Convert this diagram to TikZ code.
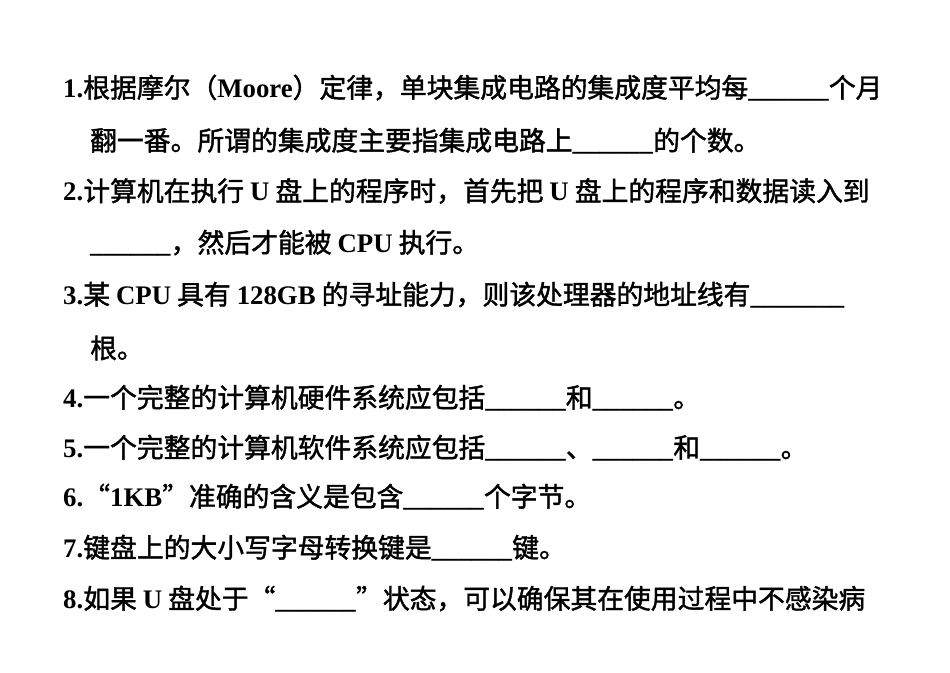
\documentclass[tikz,border=0pt]{standalone}
\usepackage{fontspec}
\setmainfont{Liberation Serif}
\newfontfamily\zhfont{Noto Sans CJK SC}[FakeBold=1.5]
\newcommand{\zh}[1]{{\zhfont #1}}
\newcommand{\bb}[1]{\textbf{#1}}
\begin{document}
\begin{tikzpicture}[x=1pt,y=1pt,line/.style={anchor=west,inner sep=0pt,font=\fontsize{26.8}{30}\selectfont}]
\useasboundingbox (0,0) rectangle (950,672);
\node[line] (l1) at (63,672-88) {\bb{1.}\zh{根据摩尔（}\bb{Moore}\zh{）定律，单块集成电路的集成度平均每}\bb{\_\_\_\_\_\_}\zh{个月}};
\node[line] (l2) at (90,672-141) {\zh{翻一番。所谓的集成度主要指集成电路上}\bb{\_\_\_\_\_\_}\zh{的个数。}};
\node[line] (l3) at (63,672-191) {\bb{2.}\zh{计算机在执行 }\bb{U}\zh{ 盘上的程序时，首先把 }\bb{U}\zh{ 盘上的程序和数据读入到}};
\node[line] (l4) at (90,672-243) {\bb{\_\_\_\_\_\_}\zh{，然后才能被 }\bb{CPU}\zh{ 执行。}};
\node[line] (l5) at (63,672-295) {\bb{3.}\zh{某 }\bb{CPU}\zh{ 具有 }\bb{128GB}\zh{ 的寻址能力，则该处理器的地址线有}\bb{\_\_\_\_\_\_\_}};
\node[line] (l6) at (90,672-348) {\zh{根。}};
\node[line] (l7) at (63,672-398) {\bb{4.}\zh{一个完整的计算机硬件系统应包括}\bb{\_\_\_\_\_\_}\zh{和}\bb{\_\_\_\_\_\_}\zh{。}};
\node[line] (l8) at (63,672-448) {\bb{5.}\zh{一个完整的计算机软件系统应包括}\bb{\_\_\_\_\_\_}\zh{、}\bb{\_\_\_\_\_\_}\zh{和}\bb{\_\_\_\_\_\_}\zh{。}};
\node[line] (l9) at (63,672-497) {\bb{6.}\zh{“}\bb{1KB}\zh{”准确的含义是包含}\bb{\_\_\_\_\_\_}\zh{个字节。}};
\node[line] (l10) at (63,672-548) {\bb{7.}\zh{键盘上的大小写字母转换键是}\bb{\_\_\_\_\_\_}\zh{键。}};
\node[line] (l11) at (63,672-599) {\bb{8.}\zh{如果 }\bb{U}\zh{ 盘处于“}\bb{\_\_\_\_\_\_}\zh{”状态，可以确保其在使用过程中不感染病}};
\end{tikzpicture}
\end{document}
